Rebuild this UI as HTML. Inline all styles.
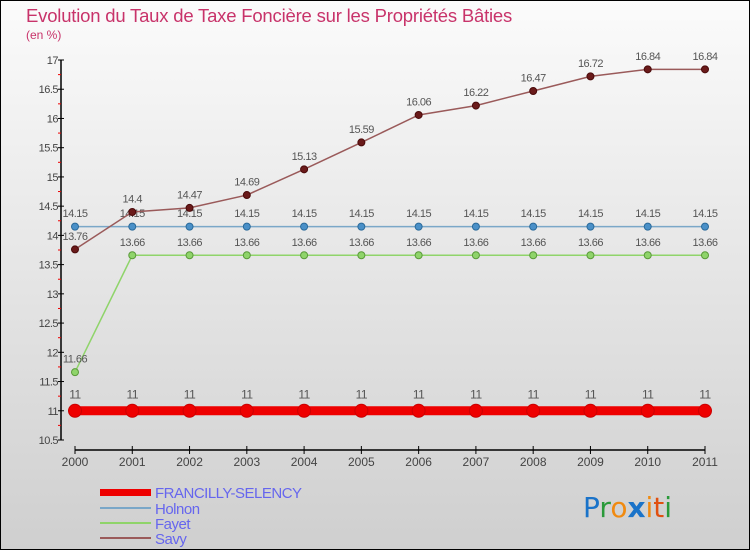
<!DOCTYPE html>
<html><head><meta charset="utf-8"><style>
body{margin:0}
svg{display:block;font-family:"Liberation Sans",sans-serif}
</style></head><body>
<svg id="c" width="750" height="550" xmlns="http://www.w3.org/2000/svg">
<defs><linearGradient id="bg" x1="0" y1="0" x2="0" y2="1"><stop offset="0" stop-color="#fbfbfb"/><stop offset="1" stop-color="#cfcfcf"/></linearGradient></defs>
<rect x="0.5" y="0.5" width="749" height="549" fill="url(#bg)" stroke="#000"/>
<text x="26" y="22" font-size="18.5" letter-spacing="-0.2" fill="#c8336a">Evolution du Taux de Taxe Foncière sur les Propriétés Bâties</text>
<text x="26" y="39" font-size="12" fill="#c8336a">(en %)</text>
<g id="axes"></g><g id="series"></g>
<g>
<rect x="100" y="489" width="51" height="7" fill="#e00"/>
<text x="155" y="498" font-size="15" letter-spacing="-0.5" fill="#6666ee">FRANCILLY-SELENCY</text>
<line x1="100" y1="508" x2="151" y2="508" stroke="#7aa7c8" stroke-width="2"/>
<text x="155" y="514" font-size="15" letter-spacing="-0.5" fill="#6666ee">Holnon</text>
<line x1="100" y1="523" x2="151" y2="523" stroke="#8fd46a" stroke-width="2"/>
<text x="155" y="529" font-size="15" letter-spacing="-0.5" fill="#6666ee">Fayet</text>
<line x1="100" y1="538" x2="151" y2="538" stroke="#9a5a5a" stroke-width="2"/>
<text x="155" y="544" font-size="15" letter-spacing="-0.5" fill="#6666ee">Savy</text>
</g>
<g font-size="28" font-family="'DejaVu Sans',sans-serif">
<text x="583" y="517"><tspan fill="#1a73c9">P</tspan><tspan fill="#2a9a3a">r</tspan><tspan fill="#f08a10">o</tspan><tspan fill="#1a73c9" font-weight="bold">x</tspan><tspan fill="#f08a10">i</tspan><tspan fill="#e05010">t</tspan><tspan fill="#2a9a3a">i</tspan></text>
</g>
</svg>
<script>
const years=[2000,2001,2002,2003,2004,2005,2006,2007,2008,2009,2010,2011];
const francilly=[11,11,11,11,11,11,11,11,11,11,11,11];
const holnon=[14.15,14.15,14.15,14.15,14.15,14.15,14.15,14.15,14.15,14.15,14.15,14.15];
const fayet=[11.66,13.66,13.66,13.66,13.66,13.66,13.66,13.66,13.66,13.66,13.66,13.66];
const savy=[13.76,14.4,14.47,14.69,15.13,15.59,16.06,16.22,16.47,16.72,16.84,16.84];
const yTicks=[10.5,11,11.5,12,12.5,13,13.5,14,14.5,15,15.5,16,16.5,17];
const NS="http://www.w3.org/2000/svg";
const x=i=>75+i*(630/(years.length-1));
const y=v=>440-(v-10.5)*(380/6.5);
function mk(t,a,p){const e=document.createElementNS(NS,t);for(const k in a)e.setAttribute(k,a[k]);p.appendChild(e);return e;}
const ax=document.getElementById('axes'),sr=document.getElementById('series');
const ya=mk('line',{x1:61,y1:y(17),x2:61,y2:y(10.5),stroke:'#000','stroke-width':1.5},ax);


yTicks.forEach((t,i)=>{
  mk('line',{x1:58,x2:64,y1:y(t),y2:y(t),stroke:'#000'},ax);
  if(i<yTicks.length-1) mk('line',{x1:58,x2:61,y1:y(t+0.25),y2:y(t+0.25),stroke:'#e00'},ax);
  const tx=mk('text',{x:58,y:y(t)+4,'font-size':11,fill:'#444','text-anchor':'end','letter-spacing':'-0.5'},ax);
  tx.textContent=t;
  
  
});
const xa=mk('line',{x1:75,x2:705,y1:450,y2:450,stroke:'#000','stroke-width':1.5},ax);


years.forEach((yr,i)=>{
  mk('line',{x1:x(i),x2:x(i),y1:446,y2:454,stroke:'#000'},ax);
  const tx=mk('text',{x:x(i),y:466,'font-size':12,fill:'#444','text-anchor':'middle'},ax);
  tx.textContent=yr;
  
  
});
function series(name,vals,col,lw,r,dot,stroke,fs){
  const g=mk('g',{},sr);
  
  
  mk('polyline',{points:vals.map((v,i)=>x(i)+','+y(v)).join(' '),fill:'none',stroke:col,'stroke-width':lw},g);
  vals.forEach((v,i)=>{
    const c=mk('circle',{cx:x(i),cy:y(v),r:r,fill:dot,stroke:stroke,'stroke-width':1},g);
    
    
    const t=mk('text',{x:x(i),y:y(v)-(r+6),'font-size':fs,fill:'#555','text-anchor':'middle','letter-spacing':'-0.5'},g);
    t.textContent=v;
    
    
  });
}
series('fayet',fayet,'#8fd46a',1.5,3.5,'#8fd46a','#5a9a3a',11);
series('holnon',holnon,'#7aa7c8',1.5,3.5,'#4a90c8','#2a6a9a',11);
series('savy',savy,'#9a5a5a',1.5,3.5,'#6a1a1a','#4a0a0a',11);
series('francilly',francilly,'#e00',9,6.5,'#e00','#c00',12);
</script>
</body></html>
